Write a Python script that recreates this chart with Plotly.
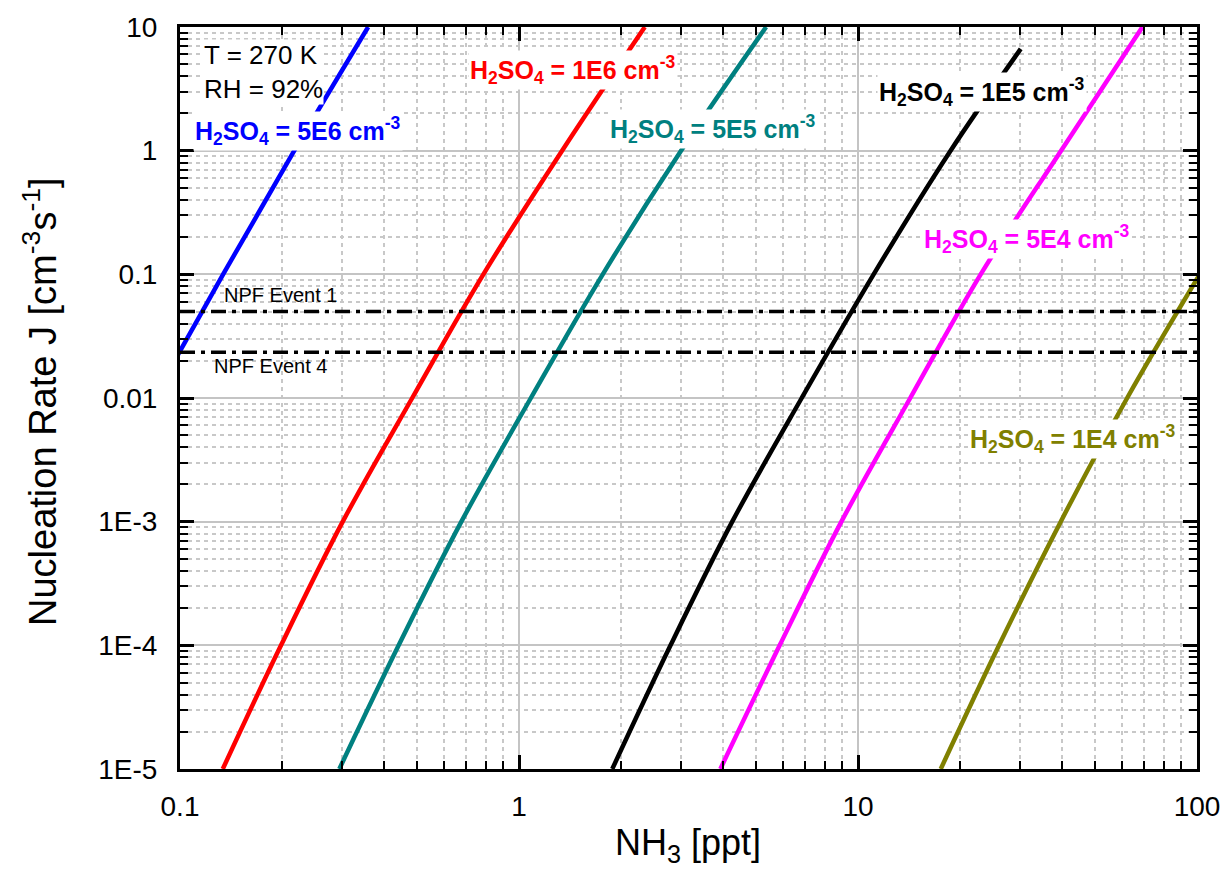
import plotly.graph_objects as go

# ---------------- data ----------------
J_levels = [1e-5, 1e-4, 1e-3, 1e-2, 1e-1, 1, 10]

blue_J = [1e-2, 1e-1, 1, 10]
blue_nh3 = [0.0836, 0.134, 0.2173, 0.3589]

red_J = J_levels
red_nh3 = [0.1337, 0.1986, 0.302, 0.4842, 0.785, 1.34, 2.35]

teal_J = J_levels
teal_nh3 = [0.2951, 0.4416, 0.676, 1.084, 1.766, 3.006, 5.358]

black_J = [1e-5, 1e-4, 1e-3, 1e-2, 1e-1, 1, 6.65]
black_nh3 = [1.884, 2.799, 4.256, 6.823, 11.12, 18.75, 30.2]

magenta_J = J_levels
magenta_nh3 = [3.926, 5.875, 8.933, 14.26, 23.01, 39.72, 69.02]

olive_J = [1e-5, 1e-4, 1e-3, 1e-2, 1e-1]
olive_nh3 = [17.54, 26.06, 39.63, 62.23, 101.9]

series_names = ["5E6", "1E6", "5E5", "1E5", "5E4", "1E4"]
series_colors = ["#0000FF", "#FF0000", "#008080", "#000000", "#FF00FF", "#808000"]

npf_J = [0.05, 0.0234]
npf_labels = ["NPF Event 1", "NPF Event 4"]
x_range = [0.1, 100]

x_tickvals = [0.1, 1, 10, 100]
x_ticktext = ["0.1", "1", "10", "100"]
y_tickvals = [1e-5, 1e-4, 1e-3, 1e-2, 1e-1, 1, 10]
y_ticktext = ["1E-5", "1E-4", "1E-3", "0.01", "0.1", "1", "10"]

# ---------------- layout geometry ----------------
W, H = 1232, 879
L, R, T, B = 180, 1197, 23, 769


def px(xp):
    return (xp - L) / (R - L)


def py(yp):
    return (B - yp) / (B - T)


FONT = "Liberation Sans, Arial, sans-serif"

fig = go.Figure()

for xs, ys, c in [
    (blue_nh3, blue_J, series_colors[0]),
    (red_nh3, red_J, series_colors[1]),
    (teal_nh3, teal_J, series_colors[2]),
    (black_nh3, black_J, series_colors[3]),
    (magenta_nh3, magenta_J, series_colors[4]),
    (olive_nh3, olive_J, series_colors[5]),
]:
    fig.add_trace(go.Scatter(x=xs, y=ys, mode="lines",
                             line=dict(color=c, width=4.5, shape="spline", smoothing=1.0),
                             showlegend=False, hoverinfo="skip"))

for v in npf_J:
    fig.add_trace(go.Scatter(x=x_range, y=[v, v], mode="lines",
                             line=dict(color="black", width=3.5, dash="15px,6px,4px,6px"),
                             showlegend=False, hoverinfo="skip"))

minor_x = [m * 10 ** e for e in range(-1, 2) for m in range(2, 10)]
minor_y = [m * 10 ** e for e in range(-5, 1) for m in range(2, 10)]

axis_common = dict(
    type="log",
    showline=True, linecolor="black", linewidth=3, mirror="allticks",
    ticks="inside", ticklen=14, tickwidth=3, tickcolor="black",
    showgrid=True, gridcolor="#c4c4c4", gridwidth=2,
    zeroline=False,
    tickfont=dict(family=FONT, size=28, color="black"),
)

fig.update_xaxes(
    **axis_common,
    range=[-1, 2],
    tickmode="array", tickvals=x_tickvals, ticktext=x_ticktext,
    ticklabelstandoff=10,
    minor=dict(tickmode="array", tickvals=minor_x, ticks="inside", ticklen=8, tickwidth=2,
               tickcolor="black", showgrid=True, gridcolor="#c8c8c8", gridwidth=1.5,
               griddash="4px,4px"),
)
fig.update_yaxes(
    **axis_common,
    range=[-5, 1],
    tickmode="array", tickvals=y_tickvals, ticktext=y_ticktext,
    ticklabelstandoff=14,
    minor=dict(tickmode="array", tickvals=minor_y, ticks="inside", ticklen=8, tickwidth=2,
               tickcolor="black", showgrid=True, gridcolor="#c8c8c8", gridwidth=1.5,
               griddash="4px,4px"),
)

ann = []
# series labels: left x px, centre y px
label_pos = [(193, 128), (468, 66), (608, 126), (877, 88), (922, 236), (968, 437)]
for name, col, (lx, ly) in zip(series_names, series_colors, label_pos):
    ann.append(dict(
        x=px(lx), y=py(ly), xref="paper", yref="paper", xanchor="left", yanchor="middle",
        text=f"<b>H<sub>2</sub>SO<sub>4</sub> = {name} cm<sup>-3</sup></b>",
        showarrow=False, font=dict(family=FONT, size=25, color=col),
        bgcolor="white", borderpad=1,
    ))

ann.append(dict(
    x=px(203), y=py(68), xref="paper", yref="paper", xanchor="left", yanchor="middle",
    text="T = 270 K<br>RH = 92%", align="left", showarrow=False,
    font=dict(family=FONT, size=26, color="black"), bgcolor="white", borderpad=0,
))

for txt, (lx, ly) in zip(npf_labels, [(222, 292), (212, 364)]):
    ann.append(dict(
        x=px(lx), y=py(ly), xref="paper", yref="paper", xanchor="left", yanchor="middle",
        text=txt, showarrow=False, font=dict(family=FONT, size=20, color="black"),
    ))

# axis titles
ann.append(dict(
    x=px(688), y=py(845), xref="paper", yref="paper", xanchor="center", yanchor="middle",
    text="NH<sub>3</sub> [ppt]", showarrow=False,
    font=dict(family=FONT, size=36, color="black"),
))
ann.append(dict(
    x=px(40), y=py(400), xref="paper", yref="paper", xanchor="center", yanchor="middle",
    text="Nucleation Rate J [cm<sup>-3</sup>s<sup>-1</sup>]", textangle=-90, showarrow=False,
    font=dict(family=FONT, size=38, color="black"),
))

fig.update_layout(
    width=W, height=H,
    margin=dict(l=L, r=W - R, t=T, b=H - B, pad=0),
    paper_bgcolor="white", plot_bgcolor="white",
    annotations=ann,
    showlegend=False,
)

fig.write_html("out.html", config={"displayModeBar": False},
               post_script="document.body.style.margin='0';document.body.style.padding='0';")
